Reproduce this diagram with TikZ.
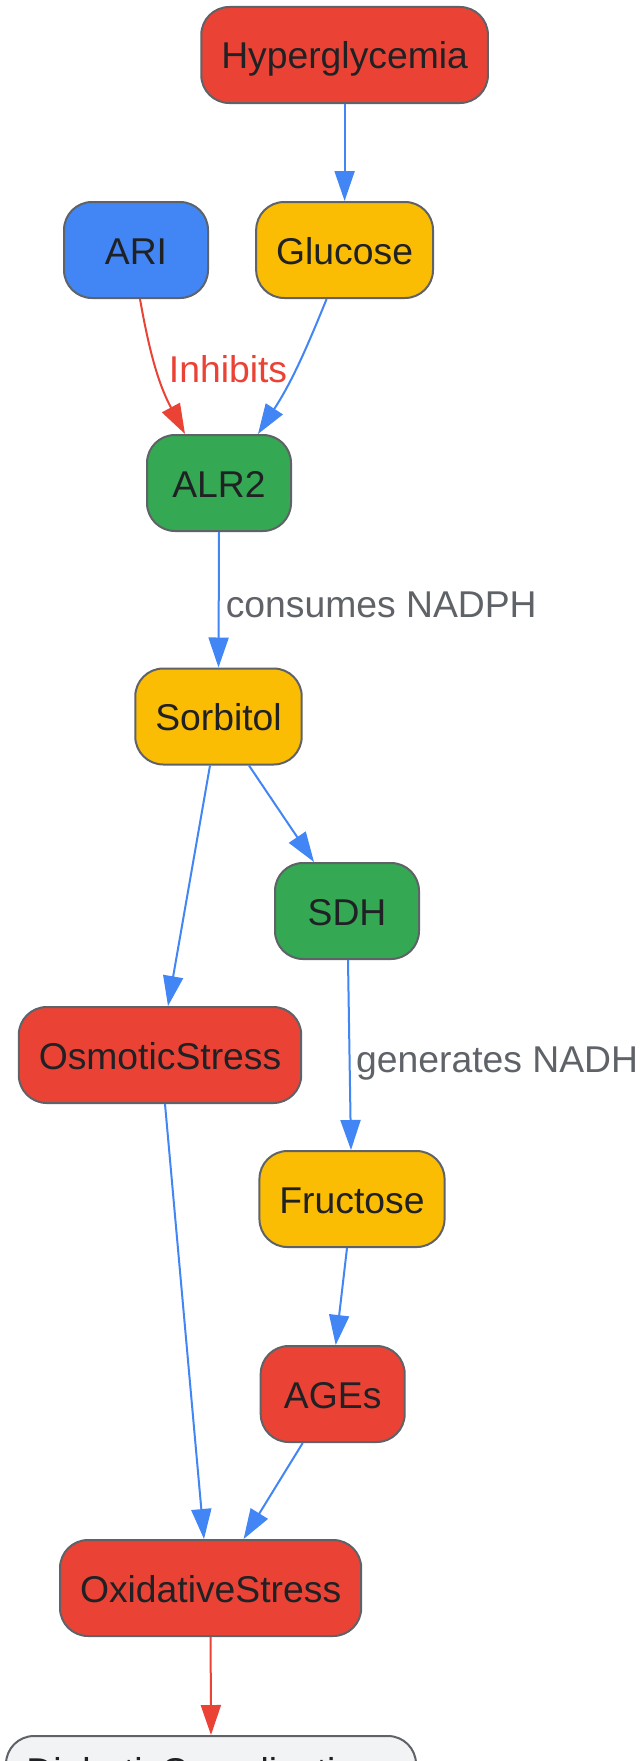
\documentclass[tikz,border=0pt]{standalone}
\usepackage{fontspec}
\setmainfont{Liberation Sans}
\usetikzlibrary{arrows.meta}
\definecolor{gred}{HTML}{EA4335}
\definecolor{gblue}{HTML}{4285F4}
\definecolor{gyellow}{HTML}{FBBC04}
\definecolor{ggreen}{HTML}{34A853}
\definecolor{ggray}{HTML}{5F6368}
\definecolor{gtext}{HTML}{202124}
\definecolor{glight}{HTML}{F1F3F4}
\tikzset{
  box/.style={draw=ggray, line width=2pt, rounded corners=28pt, minimum height=96pt,
    minimum width=144pt, inner xsep=20pt, inner ysep=0pt, text=gtext,
    font=\fontsize{37.3}{40}\selectfont, text height=28pt, text depth=0pt},
  redbox/.style={box, fill=gred},
  bluebox/.style={box, fill=gblue},
  yellowbox/.style={box, fill=gyellow},
  greenbox/.style={box, fill=ggreen},
  lbl/.style={font=\fontsize{37.3}{40}\selectfont, text height=28pt, text depth=0pt, inner sep=0pt},
  bedge/.style={draw=gblue, line width=2pt, -{Triangle[length=30pt,width=20pt]}, fill=none},
  redge/.style={draw=gred, line width=2pt, -{Triangle[length=30pt,width=20pt]}, fill=none},
}
\begin{document}
\begin{tikzpicture}[x=1pt,y=1pt]
\useasboundingbox[fill=white] (0,0) rectangle (642,-1761);
\node[redbox] (Hyp) at (344.6,-55) {Hyperglycemia};
\node[bluebox] (ARI) at (136,-250) {ARI};
\node[yellowbox] (Glu) at (344.6,-250) {Glucose};
\node[greenbox] (ALR) at (219,-483) {ALR2};
\node[yellowbox] (Sorb) at (218.5,-716.5) {Sorbitol};
\node[greenbox] (SDH) at (347,-911) {SDH};
\node[redbox] (Osm) at (160,-1055) {OsmoticStress};
\node[yellowbox] (Fru) at (352,-1199) {Fructose};
\node[redbox] (AGE) at (332.7,-1394) {AGEs};
\node[redbox] (Ox) at (210.6,-1588) {OxidativeStress};
\node[box, fill=glight, anchor=north, minimum width=410pt, inner ysep=22pt, text height=26pt, text depth=48pt] (Diab) at (211,-1735) {DiabeticComplications};

\node[lbl, text=gred] (inh) at (228,-368) {Inhibits};
\node[lbl, text=ggray, anchor=west] (nadph) at (225.6,-603) {consumes NADPH};
\node[lbl, text=ggray, anchor=west] (nadh) at (356,-1058) {generates NADH};

\draw[bedge] (Hyp.south) -- (Glu.north);
\draw[redge] ([xshift=4pt]ARI.south) to[out=-80,in=118] ([xshift=-34pt]ALR.north);
\draw[bedge] ([xshift=-18pt]Glu.south) to[out=-112,in=57] ([xshift=39pt]ALR.north);
\draw[bedge] (ALR.south) -- (Sorb.north);
\draw[bedge] ([xshift=30.5pt]Sorb.south) -- ([xshift=-33pt]SDH.north);
\draw[bedge] ([xshift=-8.5pt]Sorb.south) -- ([xshift=8pt]Osm.north);
\draw[bedge] ([xshift=1pt]SDH.south) -- ([xshift=-1pt]Fru.north);
\draw[bedge] ([xshift=-5pt]Fru.south) -- ([xshift=3pt]AGE.north);
\draw[bedge] ([xshift=5pt]Osm.south) -- ([xshift=-6.6pt]Ox.north);
\draw[bedge] ([xshift=-30pt]AGE.south) -- ([xshift=33pt]Ox.north);
\draw[redge] (Ox.south) -- (Diab.north);
\end{tikzpicture}
\end{document}
